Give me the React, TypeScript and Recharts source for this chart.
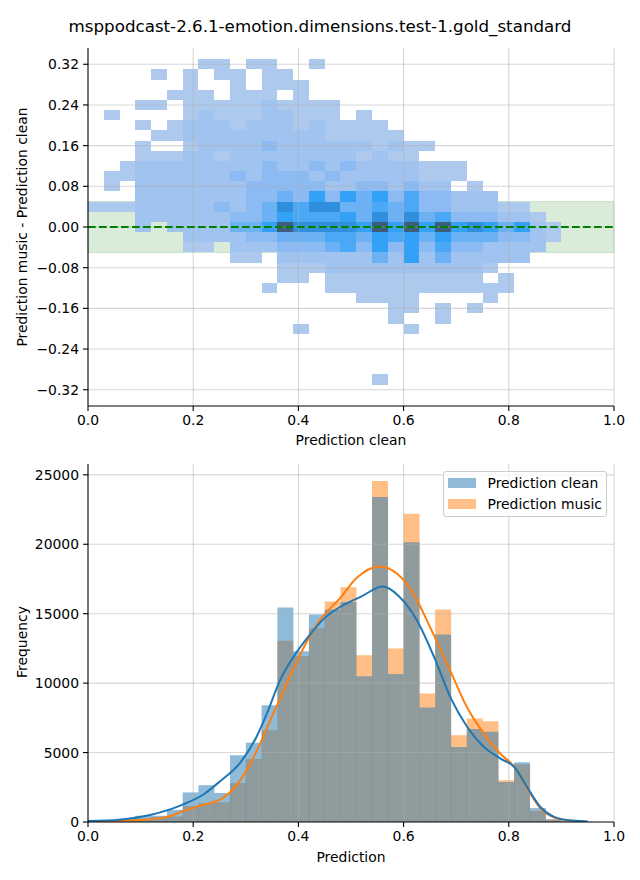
import React from "react";
import { ComposedChart, Bar, Line, XAxis, YAxis, ReferenceArea, ReferenceLine, Legend } from "recharts";

const FONT = "'DejaVu Sans', sans-serif";
const FS = 13.9;

// ---------- top panel: 2d histogram (x = clean, y = music - clean)
const heatColEdges = [
  0, 0.03, 0.06, 0.09, 0.12, 0.15, 0.18, 0.21, 0.24, 0.27, 0.3, 0.33, 0.36, 0.39, 0.42, 0.45,
  0.48, 0.51, 0.54, 0.57, 0.6, 0.63, 0.66, 0.69, 0.72, 0.75, 0.78, 0.81, 0.84, 0.87, 0.9,
];
const heatRowY = [
  0.32, 0.3, 0.28, 0.26, 0.24, 0.22, 0.2, 0.18, 0.16, 0.14, 0.12, 0.1, 0.08, 0.06, 0.04, 0.02, 0,
  -0.02, -0.04, -0.06, -0.08, -0.1, -0.12, -0.14, -0.16, -0.18, -0.2, -0.3,
];
// density level per cell (0 = empty), one string per row, columns 0..29
const heatRows = [
  "0000000110 1100100000 0000000000",
  "0000101011 0110000000 0000000000",
  "0000001001 0111000000 0000000000",
  "0000011101 1101000000 0000000000",
  "0001101111 1211110000 0000000000",
  "0100001211 1221110100 0000000000",
  "0001012221 2221211110 0000000000",
  "0000112222 2222211111 0000000000",
  "0001001222 2322222212 1100000000",
  "0001112212 2222222121 1000000000",
  "0012222222 2322323222 2111000000",
  "0112222223 2333232222 2111000000",
  "0102222222 3333322332 3220100000",
  "0002222222 3343636463 5332220000",
  "1112222232 3475774454 5332221100",
  "0002222223 3465556474 7453332210",
  "0002022224 4687777686 8686764621",
  "0000002222 3344455465 6464443321",
  "0000001102 2233345363 6353322220",
  "0000000001 1022222242 6242222200",
  "0000000000 0011122222 2222210000",
  "0000000000 0011011111 1111101000",
  "0000000000 0100011111 1111111000",
  "0000000000 0000000111 1000010000",
  "0000000000 0000000001 1010100000",
  "0000000000 0000000001 0010000000",
  "0000000000 0001000000 1000000000",
  "0000000000 0000000010 0000000000",
];
const heatColors = ["none", "#adc9ee", "#a1c3ef", "#8bbbf2", "#6cb1f4", "#4aa8f6", "#33a1f5", "#2f8fdc", "#3e5d7d"];

const xTicks = [0, 0.2, 0.4, 0.6, 0.8, 1];
const yTicksTop = [-0.32, -0.24, -0.16, -0.08, 0, 0.08, 0.16, 0.24, 0.32];

// ---------- bottom panel: histograms + kde
const binCenters = [
  0.015, 0.045, 0.075, 0.105, 0.135, 0.165, 0.195, 0.225, 0.255, 0.285, 0.315, 0.345, 0.375, 0.405, 0.435, 0.465,
  0.495, 0.525, 0.555, 0.585, 0.615, 0.645, 0.675, 0.705, 0.735, 0.765, 0.795, 0.825, 0.855, 0.885, 0.915, 0.945,
];
const cleanCounts = [
  60, 100, 240, 450, 450, 880, 2130, 2650, 2090, 4800, 5700, 8400, 15450, 12300, 14950, 15300,
  15850, 10500, 23400, 10650, 20150, 8250, 13500, 5400, 6700, 6500, 2880, 4300, 1000, 180, 50, 20,
];
const musicCounts = [
  20, 40, 100, 200, 350, 400, 1150, 1360, 1420, 2800, 4530, 6600, 13050, 11950, 13950, 15870,
  16900, 12000, 24550, 12500, 22200, 9250, 15300, 6250, 7450, 7250, 3000, 4150, 800, 200, 40, 10,
];

const kdeCleanX = [0, 0.06, 0.12, 0.18, 0.22, 0.25, 0.29, 0.32, 0.34, 0.365, 0.39, 0.42, 0.45, 0.48, 0.52, 0.56, 0.59, 0.625, 0.66, 0.69, 0.72, 0.75, 0.785, 0.81, 0.835, 0.86, 0.885, 0.91, 0.95];
const kdeCleanY = [70, 170, 520, 1250, 2000, 2900, 4300, 6100, 7800, 10200, 11850, 13400, 14700, 15500, 16250, 16950, 16300, 14550, 11700, 8900, 6900, 5500, 4550, 3980, 2500, 1080, 380, 140, 45];
const kdeMusicX = [0, 0.09, 0.15, 0.185, 0.215, 0.255, 0.28, 0.305, 0.33, 0.352, 0.375, 0.4, 0.44, 0.48, 0.51, 0.555, 0.587, 0.618, 0.65, 0.688, 0.72, 0.752, 0.783, 0.81, 0.835, 0.86, 0.885, 0.91, 0.935];
const kdeMusicY = [25, 120, 370, 840, 1200, 1700, 2520, 3960, 5880, 7790, 9710, 11800, 14500, 16150, 17550, 18400, 17900, 16500, 14050, 10950, 8300, 6400, 4950, 3990, 2430, 990, 340, 140, 45];

const yTicksBottom = [0, 5000, 10000, 15000, 20000, 25000];

const legendItems = [
  { label: "Prediction clean", color: "#1f77b4" },
  { label: "Prediction music", color: "#ff7f0e" },
];

const heatCells = heatRows.flatMap((row, ri) =>
  row
    .replace(/ /g, "")
    .split("")
    .map((ch, ci) => ({ ci, y: heatRowY[ri], level: Number(ch) }))
    .filter((d) => d.level > 0)
);

const histData = binCenters.map((x, i) => ({ x, clean: cleanCounts[i], music: musicCounts[i] }));
const kdeClean = kdeCleanX.map((x, i) => ({ x, v: kdeCleanY[i] }));
const kdeMusic = kdeMusicX.map((x, i) => ({ x, v: kdeMusicY[i] }));

const tickStyle = { fill: "#000", fontSize: FS, fontFamily: FONT };
const axisLine = { stroke: "#000", strokeWidth: 1.1 };
const tickLine = { stroke: "#000", strokeWidth: 1.1 };
const gridProps = { stroke: "#b0b0b0", strokeOpacity: 0.5, strokeWidth: 1.1 };

const fmt1 = (v: number) => v.toFixed(1);
const fmt2 = (v: number) => (v < -1e-9 ? "\u2212" : "") + Math.abs(v).toFixed(2);

function LegendBox() {
  return (
    <div
      style={{
        width: 164,
        height: 46,
        boxSizing: "border-box",
        border: "1px solid #cccccc",
        borderRadius: 3,
        background: "rgba(255,255,255,0.8)",
        fontFamily: FONT,
        fontSize: FS,
        paddingLeft: 4,
      }}
    >
      {legendItems.map((it) => (
        <div key={it.label} style={{ display: "flex", alignItems: "center", height: 21.5 }}>
          <span style={{ width: 28, height: 10, background: it.color, opacity: 0.5, marginRight: 11.5 }} />
          <span style={{ color: "#000", whiteSpace: "nowrap" }}>{it.label}</span>
        </div>
      ))}
    </div>
  );
}

function VLabel({ text, x, y }: { text: string; x: number; y: number }) {
  return (
    <div
      style={{
        position: "absolute",
        left: x,
        top: y,
        transform: "translate(-50%, -50%) rotate(-90deg)",
        whiteSpace: "nowrap",
        fontSize: FS,
        fontFamily: FONT,
      }}
    >
      {text}
    </div>
  );
}

function HLabel({ text, cx, cy, size = FS }: { text: string; cx: number; cy: number; size?: number }) {
  return (
    <div
      style={{
        position: "absolute",
        left: cx,
        top: cy,
        transform: "translate(-50%, -50%)",
        whiteSpace: "nowrap",
        fontSize: size,
        fontFamily: FONT,
      }}
    >
      {text}
    </div>
  );
}

export default function App() {
  return (
    <div style={{ position: "absolute", left: 0, top: 0, width: 640, height: 880, background: "#fff", fontFamily: FONT }}>
      <HLabel text="msppodcast-2.6.1-emotion.dimensions.test-1.gold_standard" cx={320} cy={26} size={16.7} />

      <div style={{ position: "absolute", left: 0, top: 0 }}>
        <ComposedChart width={640} height={440} margin={{ top: 48, right: 26, bottom: 4, left: 28 }} data={[]}>
          <XAxis
            type="number"
            dataKey="x"
            domain={[0, 1]}
            ticks={xTicks}
            allowDataOverflow
            height={30}
            tickFormatter={fmt1}
            tick={tickStyle}
            tickLine={tickLine}
            axisLine={axisLine}
            tickSize={5}
            tickMargin={4}
          />
          <YAxis
            type="number"
            domain={[-0.352, 0.352]}
            ticks={yTicksTop}
            allowDataOverflow
            width={60}
            tickFormatter={fmt2}
            tick={tickStyle}
            tickLine={tickLine}
            axisLine={axisLine}
            tickSize={5}
            tickMargin={4}
          />
          <ReferenceArea x1={0} x2={1} y1={-0.05} y2={0.05} fill="#008000" fillOpacity={0.15} stroke="#008000" strokeOpacity={0.15} />
          {heatCells.map((d, i) => (
            <ReferenceArea
              key={"h" + i}
              x1={heatColEdges[d.ci]}
              x2={heatColEdges[d.ci + 1]}
              y1={d.y - 0.01}
              y2={d.y + 0.01}
              fill={heatColors[d.level]}
              fillOpacity={1}
              stroke="none"
              shapeRendering="crispEdges"
            />
          ))}
          {xTicks.slice(1).map((t) => (
            <ReferenceLine key={"gx" + t} x={t} {...gridProps} />
          ))}
          {yTicksTop.map((t) => (
            <ReferenceLine key={"gy" + t} y={t} {...gridProps} />
          ))}
          <ReferenceLine y={0} stroke="#008000" strokeWidth={2} strokeDasharray="7.7 3.3" />
        </ComposedChart>
      </div>
      <HLabel text="Prediction clean" cx={351} cy={440} />
      <VLabel text="Prediction music - Prediction clean" x={22} y={227} />

      <div style={{ position: "absolute", left: 0, top: 440 }}>
        <ComposedChart
          width={640}
          height={440}
          margin={{ top: 24, right: 26, bottom: 28, left: 28 }}
          data={histData}
          barCategoryGap={0}
          barGap={0}
        >
          <XAxis
            xAxisId="a"
            type="number"
            dataKey="x"
            domain={[0, 1]}
            ticks={xTicks}
            allowDataOverflow
            height={30}
            tickFormatter={fmt1}
            tick={tickStyle}
            tickLine={tickLine}
            axisLine={axisLine}
            tickSize={5}
            tickMargin={4}
          />
          <XAxis xAxisId="b" type="number" dataKey="x" domain={[0, 1]} allowDataOverflow hide />
          <XAxis xAxisId="k" type="number" dataKey="x" domain={[0, 1]} allowDataOverflow hide />
          <YAxis
            type="number"
            domain={[0, 25780]}
            ticks={yTicksBottom}
            allowDataOverflow
            width={60}
            tick={tickStyle}
            tickLine={tickLine}
            axisLine={axisLine}
            tickSize={5}
            tickMargin={4}
          />
          <Bar xAxisId="b" dataKey="music" name="Prediction music" fill="#ff7f0e" fillOpacity={0.5} isAnimationActive={false} />
          <Bar xAxisId="a" dataKey="clean" name="Prediction clean" fill="#1f77b4" fillOpacity={0.5} isAnimationActive={false} />
          {xTicks.slice(1).map((t) => (
            <ReferenceLine key={"bx" + t} xAxisId="a" x={t} {...gridProps} />
          ))}
          {yTicksBottom.slice(1).map((t) => (
            <ReferenceLine key={"by" + t} xAxisId="a" y={t} {...gridProps} />
          ))}
          <Line xAxisId="k" data={kdeMusic} dataKey="v" type="monotone" stroke="#ff7f0e" strokeWidth={2} dot={false} activeDot={false} isAnimationActive={false} legendType="none" />
          <Line xAxisId="k" data={kdeClean} dataKey="v" type="monotone" stroke="#1f77b4" strokeWidth={2} dot={false} activeDot={false} isAnimationActive={false} legendType="none" />
          <Legend
            layout="horizontal"
            verticalAlign="middle"
            align="center"
            content={() => <LegendBox />}
            wrapperStyle={{ top: 31, left: 443, width: 164, height: 46 }}
          />
        </ComposedChart>
      </div>
      <HLabel text="Prediction" cx={351} cy={857} />
      <VLabel text="Frequency" x={22} y={642} />
    </div>
  );
}
